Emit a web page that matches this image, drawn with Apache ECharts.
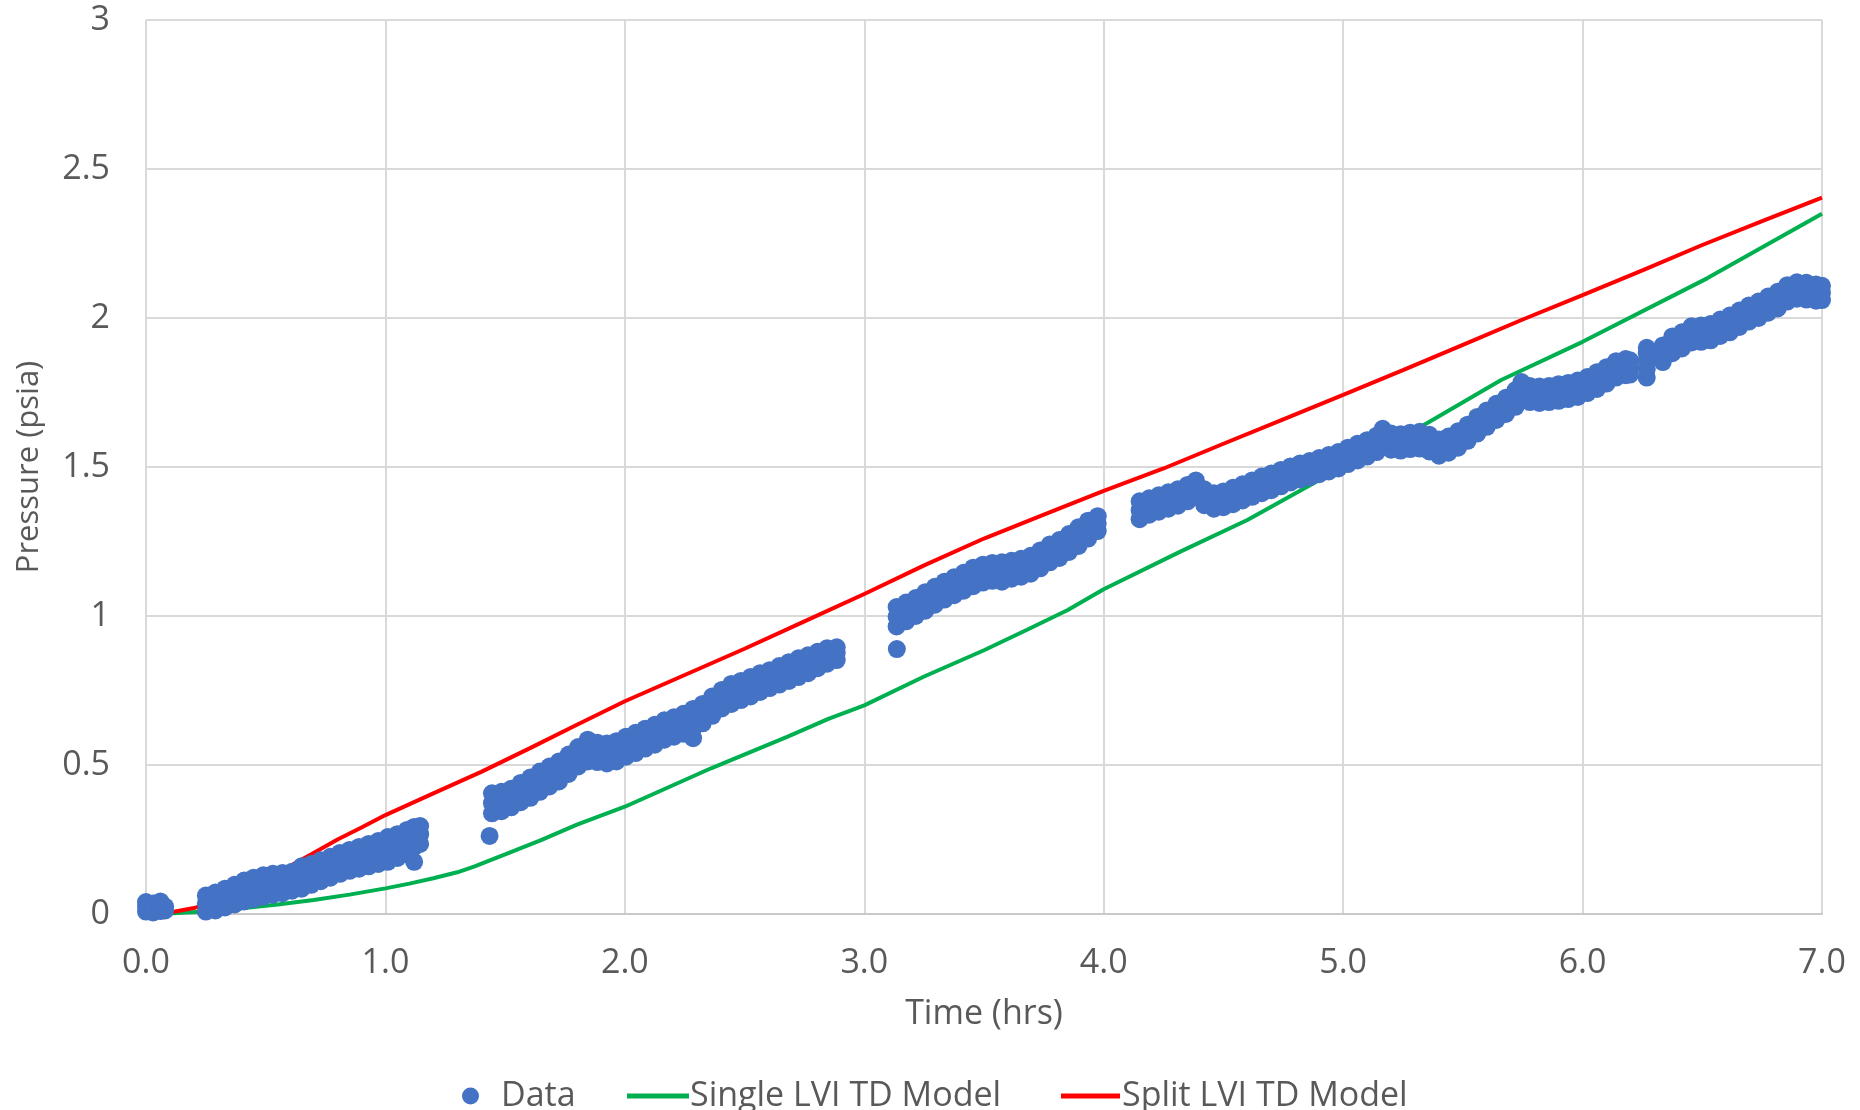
<!DOCTYPE html>
<html>
<head>
<meta charset="utf-8">
<script src="https://cdn.jsdelivr.net/npm/echarts@6/dist/echarts.min.js"></script>
<style>
html,body{margin:0;padding:0;background:#fff;}
#chart{width:1860px;height:1110px;}
</style>
</head>
<body>
<div id="chart"></div>
<script>
// ---- Data ----
// Measured pressure: each row is [time, pressure values observed at that time...]
const dataRows = [
  // near t = 0
  [0.00, 0.008, 0.025, 0.040], [0.03, 0.005, 0.020, 0.035], [0.06, 0.010, 0.028, 0.042], [0.08, 0.012, 0.025],
  // 0.25 - 1.15 h
  [0.25, 0.008, 0.035, 0.062], [0.29, 0.012, 0.042, 0.072], [0.33, 0.022, 0.055, 0.085],
  [0.37, 0.032, 0.068, 0.098], [0.41, 0.042, 0.078, 0.112], [0.45, 0.050, 0.088, 0.122],
  [0.49, 0.058, 0.095, 0.130], [0.53, 0.065, 0.102, 0.135], [0.57, 0.070, 0.108, 0.138],
  [0.61, 0.078, 0.112, 0.142], [0.65, 0.085, 0.122, 0.160], [0.69, 0.098, 0.135, 0.168],
  [0.73, 0.110, 0.148, 0.180], [0.77, 0.122, 0.160, 0.192], [0.81, 0.135, 0.172, 0.205],
  [0.85, 0.145, 0.182, 0.215], [0.89, 0.152, 0.190, 0.225], [0.93, 0.160, 0.200, 0.235],
  [0.97, 0.168, 0.208, 0.245], [1.01, 0.175, 0.218, 0.258], [1.05, 0.188, 0.228, 0.268],
  [1.09, 0.200, 0.242, 0.282], [1.12, 0.175, 0.225, 0.260, 0.292], [1.145, 0.235, 0.268, 0.295],
  // 1.43 - 2.90 h
  [1.435, 0.262],
  [1.445, 0.338, 0.372, 0.405], [1.485, 0.345, 0.380, 0.410], [1.525, 0.358, 0.392, 0.420],
  [1.565, 0.375, 0.410, 0.440], [1.605, 0.390, 0.425, 0.458], [1.645, 0.410, 0.445, 0.478],
  [1.685, 0.428, 0.462, 0.495], [1.725, 0.445, 0.480, 0.512], [1.765, 0.470, 0.505, 0.535],
  [1.805, 0.495, 0.530, 0.560], [1.845, 0.512, 0.548, 0.585], [1.885, 0.510, 0.545, 0.575],
  [1.925, 0.505, 0.540, 0.572], [1.965, 0.512, 0.548, 0.580], [2.005, 0.528, 0.562, 0.595],
  [2.045, 0.540, 0.575, 0.608], [2.085, 0.555, 0.590, 0.622], [2.125, 0.568, 0.602, 0.635],
  [2.165, 0.585, 0.618, 0.650], [2.205, 0.595, 0.628, 0.660], [2.245, 0.605, 0.640, 0.672],
  [2.285, 0.590, 0.622, 0.655, 0.688], [2.325, 0.640, 0.675, 0.705], [2.365, 0.665, 0.700, 0.730],
  [2.405, 0.690, 0.722, 0.752], [2.445, 0.705, 0.740, 0.772], [2.485, 0.718, 0.752, 0.782],
  [2.525, 0.730, 0.765, 0.795], [2.565, 0.745, 0.780, 0.808], [2.605, 0.758, 0.790, 0.818],
  [2.645, 0.770, 0.803, 0.832], [2.685, 0.782, 0.815, 0.845], [2.725, 0.795, 0.827, 0.858],
  [2.765, 0.808, 0.840, 0.868], [2.805, 0.825, 0.855, 0.880], [2.845, 0.840, 0.868, 0.892],
  [2.885, 0.852, 0.877, 0.895],
  // 3.13 - 3.98 h
  [3.136, 0.889],
  [3.135, 0.965, 0.998, 1.030], [3.175, 0.982, 1.015, 1.045], [3.215, 1.000, 1.030, 1.060],
  [3.255, 1.018, 1.050, 1.080], [3.295, 1.038, 1.068, 1.098], [3.335, 1.055, 1.085, 1.115],
  [3.375, 1.070, 1.100, 1.130], [3.415, 1.085, 1.115, 1.145], [3.455, 1.100, 1.132, 1.162],
  [3.495, 1.112, 1.142, 1.172], [3.535, 1.118, 1.148, 1.178], [3.575, 1.115, 1.148, 1.180],
  [3.615, 1.125, 1.155, 1.185], [3.655, 1.132, 1.162, 1.192], [3.695, 1.142, 1.172, 1.202],
  [3.735, 1.160, 1.190, 1.220], [3.775, 1.180, 1.210, 1.240], [3.815, 1.195, 1.225, 1.255],
  [3.855, 1.215, 1.245, 1.275], [3.895, 1.235, 1.265, 1.298], [3.935, 1.260, 1.290, 1.320],
  [3.975, 1.285, 1.310, 1.335],
  // 4.15 - 7.00 h
  [4.15, 1.325, 1.355, 1.385], [4.19, 1.340, 1.368, 1.395], [4.23, 1.350, 1.378, 1.405],
  [4.27, 1.360, 1.388, 1.415], [4.31, 1.370, 1.398, 1.425], [4.35, 1.385, 1.412, 1.440],
  [4.385, 1.400, 1.430, 1.455], [4.42, 1.372, 1.398, 1.425], [4.46, 1.360, 1.385, 1.412],
  [4.50, 1.365, 1.390, 1.418], [4.54, 1.375, 1.402, 1.430], [4.58, 1.388, 1.415, 1.442],
  [4.62, 1.400, 1.428, 1.455], [4.66, 1.412, 1.440, 1.468], [4.70, 1.422, 1.450, 1.478],
  [4.74, 1.435, 1.462, 1.490], [4.78, 1.448, 1.475, 1.502], [4.82, 1.458, 1.485, 1.512],
  [4.86, 1.466, 1.493, 1.520], [4.90, 1.476, 1.503, 1.530], [4.94, 1.485, 1.512, 1.540],
  [4.98, 1.495, 1.522, 1.550], [5.02, 1.510, 1.537, 1.565], [5.06, 1.522, 1.550, 1.578],
  [5.10, 1.535, 1.563, 1.590], [5.14, 1.550, 1.578, 1.605], [5.165, 1.570, 1.600, 1.628],
  [5.20, 1.558, 1.585, 1.612], [5.24, 1.555, 1.582, 1.610], [5.28, 1.560, 1.587, 1.615],
  [5.32, 1.562, 1.590, 1.618], [5.36, 1.552, 1.580, 1.608], [5.40, 1.538, 1.565, 1.592],
  [5.44, 1.548, 1.575, 1.602], [5.48, 1.565, 1.592, 1.620], [5.52, 1.588, 1.615, 1.642],
  [5.56, 1.612, 1.640, 1.668], [5.60, 1.635, 1.662, 1.690], [5.64, 1.658, 1.685, 1.712],
  [5.68, 1.678, 1.705, 1.732], [5.72, 1.702, 1.730, 1.758], [5.745, 1.728, 1.758, 1.785],
  [5.78, 1.718, 1.745, 1.772], [5.82, 1.715, 1.742, 1.770], [5.86, 1.718, 1.745, 1.772],
  [5.90, 1.722, 1.750, 1.778], [5.94, 1.728, 1.755, 1.782], [5.98, 1.735, 1.762, 1.790],
  [6.02, 1.748, 1.775, 1.802], [6.06, 1.762, 1.790, 1.818], [6.10, 1.780, 1.808, 1.835],
  [6.14, 1.800, 1.828, 1.855], [6.18, 1.808, 1.835, 1.862], [6.198, 1.810, 1.835, 1.858],
  [6.268, 1.800, 1.828, 1.855, 1.882, 1.900],
  [6.335, 1.852, 1.880, 1.908], [6.375, 1.882, 1.910, 1.938], [6.415, 1.898, 1.925, 1.952],
  [6.455, 1.918, 1.945, 1.972], [6.495, 1.920, 1.948, 1.975], [6.535, 1.925, 1.952, 1.980],
  [6.575, 1.940, 1.968, 1.995], [6.615, 1.952, 1.980, 2.008], [6.655, 1.970, 1.998, 2.025],
  [6.695, 1.988, 2.015, 2.042], [6.735, 2.000, 2.028, 2.055], [6.775, 2.018, 2.045, 2.072],
  [6.815, 2.032, 2.060, 2.088], [6.855, 2.055, 2.082, 2.110], [6.895, 2.065, 2.093, 2.120],
  [6.935, 2.062, 2.090, 2.118], [6.975, 2.058, 2.085, 2.112], [7.00, 2.060, 2.085, 2.108]
];

// Single LVI TD Model
const singleTime     = [0.05, 0.25, 0.4, 0.55, 0.7, 0.85, 1.0, 1.1, 1.2, 1.3, 1.37, 1.5, 1.65, 1.8, 2.0, 2.36, 2.68, 2.85, 3.0, 3.25, 3.5, 3.68, 3.85, 4.0, 4.32, 4.6, 4.85, 5.0, 5.35, 5.66, 6.0, 6.52, 7.0];
const singlePressure = [0.0, 0.008, 0.019, 0.032, 0.047, 0.065, 0.086, 0.102, 0.12, 0.14, 0.159, 0.2, 0.248, 0.3, 0.36, 0.489, 0.595, 0.655, 0.70, 0.797, 0.885, 0.954, 1.02, 1.09, 1.216, 1.322, 1.434, 1.5, 1.647, 1.792, 1.92, 2.133, 2.35];

// Split LVI TD Model
const splitTime     = [0.05, 0.1, 0.2, 0.3, 0.4, 0.5, 0.6, 0.7, 0.8, 0.9, 1.0, 1.2, 1.4, 1.6, 1.8, 2.0, 2.25, 2.5, 2.75, 3.0, 3.25, 3.5, 3.75, 4.0, 4.25, 4.5, 4.75, 5.0, 5.25, 5.5, 5.75, 6.0, 6.25, 6.5, 6.75, 7.0];
const splitPressure = [0.0, 0.005, 0.02, 0.045, 0.08, 0.12, 0.16, 0.205, 0.25, 0.29, 0.332, 0.405, 0.477, 0.555, 0.635, 0.714, 0.802, 0.89, 0.982, 1.074, 1.17, 1.26, 1.34, 1.42, 1.495, 1.578, 1.66, 1.742, 1.825, 1.91, 1.995, 2.077, 2.16, 2.245, 2.325, 2.404];

// Axis tick labels
const xTickLabels = ['0.0', '1.0', '2.0', '3.0', '4.0', '5.0', '6.0', '7.0'];
const yTickLabels = ['0', '0.5', '1', '1.5', '2', '2.5', '3'];

const seriesNames = ['Data', 'Single LVI TD Model', 'Split LVI TD Model'];
const seriesColors = ['#4472C4', '#00B050', '#FF0000'];

// ---- Build series data ----
const dataPoints = [];
dataRows.forEach(r => { for (let i = 1; i < r.length; i++) dataPoints.push([r[0], r[i]]); });
const singleLine = singleTime.map((t, i) => [t, singlePressure[i]]);
const splitLine = splitTime.map((t, i) => [t, splitPressure[i]]);

const FONT = '"Open Sans", "Noto Sans", sans-serif';
const TXT = '#595959';
const GRID = '#d9d9d9';
const legendText = {color: TXT, fontSize: 34, fontFamily: FONT, lineHeight: 40};

const chart = echarts.init(document.getElementById('chart'), null, {renderer: 'canvas'});
chart.setOption({
  backgroundColor: '#ffffff',
  animation: false,
  textStyle: {fontFamily: FONT},
  grid: {left: 146, right: 38, top: 20, bottom: 196, containLabel: false},
  legend: [
    {
      data: [{name: seriesNames[0], icon: 'circle'}],
      left: 457, top: 1071, itemWidth: 17, itemHeight: 17,
      textStyle: Object.assign({}, legendText, {padding: [0, 0, 0, 17]}),
      selectedMode: false
    },
    {
      data: [{name: seriesNames[1], icon: 'rect'}],
      left: 622, top: 1071, itemWidth: 62, itemHeight: 5,
      itemStyle: {color: seriesColors[1]},
      textStyle: Object.assign({}, legendText, {padding: [0, 0, 0, -4]}),
      selectedMode: false
    },
    {
      data: [{name: seriesNames[2], icon: 'rect'}],
      left: 1056, top: 1071, itemWidth: 59, itemHeight: 5,
      itemStyle: {color: seriesColors[2]},
      textStyle: Object.assign({}, legendText, {padding: [0, 0, 0, -3]}),
      selectedMode: false
    }
  ],
  xAxis: {
    type: 'value',
    min: 0, max: 7, interval: 1,
    name: 'Time (hrs)',
    nameLocation: 'middle',
    nameGap: 80,
    nameTextStyle: {color: TXT, fontSize: 34, fontFamily: FONT, lineHeight: 40},
    axisLine: {show: true, lineStyle: {color: '#c9c9c9', width: 2}},
    axisTick: {show: false},
    axisLabel: {
      color: TXT, fontSize: 34, fontFamily: FONT, margin: 29, lineHeight: 40,
      formatter: v => xTickLabels[Math.round(v)]
    },
    splitLine: {show: true, lineStyle: {color: GRID, width: 2}}
  },
  yAxis: {
    type: 'value',
    min: 0, max: 3, interval: 0.5,
    name: 'Pressure (psia)',
    nameLocation: 'middle',
    nameGap: 98,
    nameTextStyle: {color: TXT, fontSize: 31, fontFamily: FONT, lineHeight: 38},
    axisLine: {show: false},
    axisTick: {show: false},
    axisLabel: {
      color: TXT, fontSize: 34, fontFamily: FONT, margin: 36,
      formatter: v => yTickLabels[Math.round(v * 2)]
    },
    splitLine: {show: true, lineStyle: {color: GRID, width: 2}}
  },
  series: [
    {
      name: seriesNames[1],
      type: 'line',
      data: singleLine,
      showSymbol: false,
      symbol: 'none',
      lineStyle: {color: seriesColors[1], width: 4},
      itemStyle: {color: seriesColors[1]},
      z: 2
    },
    {
      name: seriesNames[2],
      type: 'line',
      data: splitLine,
      showSymbol: false,
      symbol: 'none',
      lineStyle: {color: seriesColors[2], width: 4},
      itemStyle: {color: seriesColors[2]},
      z: 2
    },
    {
      name: seriesNames[0],
      type: 'scatter',
      data: dataPoints,
      symbol: 'circle',
      symbolSize: 18,
      itemStyle: {color: seriesColors[0], opacity: 1},
      z: 3
    }
  ]
});
</script>
</body>
</html>
